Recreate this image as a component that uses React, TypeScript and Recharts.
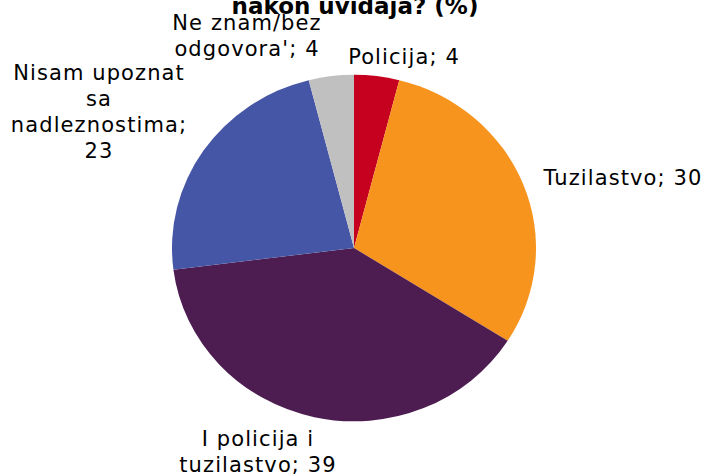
import React from 'react';
import { PieChart, Pie, Cell } from 'recharts';

/* ── Data ─────────────────────────────────────────────────── */
const categories = [
  'Policija',
  'Tuzilastvo',
  'I policija i tuzilastvo',
  'Nisam upoznat sa nadleznostima',
  "Ne znam/bez odgovora'",
];
const shares = [4, 30, 39, 23, 4];
const sliceColors = ['#C6001F', '#F7941E', '#4D1D52', '#4656A6', '#C0C0C0'];
const titleText = 'nakon uviđaja? (%)';

/* ── Layout ───────────────────────────────────────────────── */
const W = 705;
const H = 476;
const CX = 354;
const CY = 248;
const RX = 182;
const RY = 173.3;
const FONT = "'DejaVu Sans', Verdana, sans-serif";
const LABEL_SIZE = 21;
const LINE_H = 26;
const WRAP_CHARS = 14;

// label block centres, relative to the pie centre (placed by hand in the original)
const labelOffsets: [number, number][] = [
  [50, -191],
  [269, -70],
  [-96, 203.5],
  [-255, -136.5],
  [-107, -212],
];

const tableData = categories.map((name, i) => ({ name, value: shares[i] }));

function wrap(text: string, max: number): string[] {
  const words = text.split(' ');
  const lines: string[] = [];
  let cur = '';
  for (const w of words) {
    const next = cur ? `${cur} ${w}` : w;
    if (next.length > max && cur) {
      lines.push(cur);
      cur = w;
    } else {
      cur = next;
    }
  }
  if (cur) lines.push(cur);
  return lines;
}

const renderLabel = (props: any) => {
  const { cx, cy, index, name, value } = props;
  const [dx, dy] = labelOffsets[index];
  const lines = wrap(`${name}; ${value}`, WRAP_CHARS);
  const x = cx + dx;
  const y0 = cy + dy - ((lines.length - 1) * LINE_H) / 2;
  return (
    <g key={`lbl-${index}`}>
      {lines.map((line, i) => (
        <text
          key={i}
          x={x}
          y={y0 + i * LINE_H}
          textAnchor="middle"
          dominantBaseline="central"
          fontFamily={FONT}
          fontSize={LABEL_SIZE}
          letterSpacing={1.1}
          fill="#000"
        >
          {line}
        </text>
      ))}
    </g>
  );
};

export default function App() {
  return (
    <div style={{ position: 'absolute', left: 0, top: 0, width: W, height: H, background: '#fff', overflow: 'hidden' }}>
      <style>{`.pie-ellipse .recharts-pie-sector{transform:scaleY(${RY / RX});transform-origin:${CX}px ${CY}px;}`}</style>
      <div className="pie-ellipse">
        <PieChart width={W} height={H} margin={{ top: 0, right: 0, bottom: 0, left: 0 }}>
          <text
            x={355}
            y={13.5}
            textAnchor="middle"
            fontFamily={FONT}
            fontWeight="bold"
            fontSize={23}
            fill="#000"
          >
            {titleText}
          </text>
          <Pie
            data={tableData}
            dataKey="value"
            nameKey="name"
            cx={CX}
            cy={CY}
            outerRadius={RX}
            startAngle={90}
            endAngle={-270}
            stroke="none"
            label={renderLabel}
            labelLine={false}
            isAnimationActive={false}
          >
            {tableData.map((d, i) => (
              <Cell key={d.name} fill={sliceColors[i]} />
            ))}
          </Pie>
        </PieChart>
      </div>
    </div>
  );
}
